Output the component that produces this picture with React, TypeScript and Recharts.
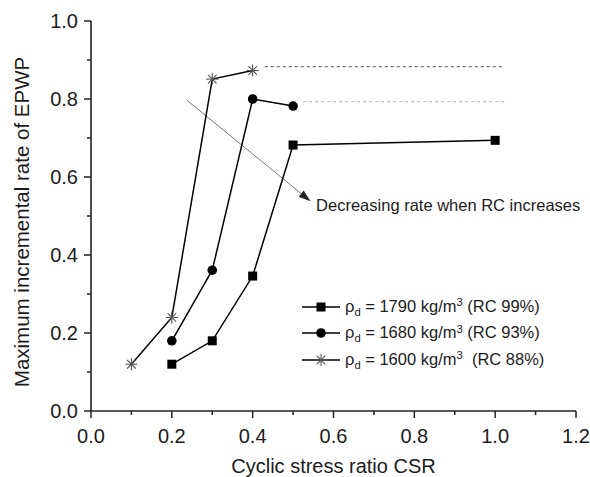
import React from 'react';
import { LineChart, Line, XAxis, YAxis, ReferenceLine, ReferenceDot } from 'recharts';

const xTicks = [0, 0.1, 0.2, 0.3, 0.4, 0.5, 0.6, 0.7, 0.8, 0.9, 1.0, 1.1, 1.2];
const yTicks = [0, 0.1, 0.2, 0.3, 0.4, 0.5, 0.6, 0.7, 0.8, 0.9, 1.0];

const csr1790 = [0.2, 0.3, 0.4, 0.5, 1.0];
const rate1790 = [0.12, 0.18, 0.346, 0.682, 0.694];
const csr1680 = [0.2, 0.3, 0.4, 0.5];
const rate1680 = [0.18, 0.361, 0.8, 0.782];
const csr1600 = [0.1, 0.2, 0.3, 0.4];
const rate1600 = [0.12, 0.24, 0.851, 0.873];

const dotted1600 = [{ x: 0.43, y: 0.883 }, { x: 1.017, y: 0.883 }];
const dotted1680 = [{ x: 0.525, y: 0.793 }, { x: 1.03, y: 0.793 }];
const arrowSeg = [{ x: 0.237, y: 0.797 }, { x: 0.543, y: 0.538 }];
const noteX = 0.557;
const noteY = 0.528;
const noteText = 'Decreasing rate when RC increases';

const xTitle = 'Cyclic stress ratio CSR';
const yTitle = 'Maximum incremental rate of EPWP';

const legendRows = [
  { marker: 'square', density: '1790', rc: ' (RC 99%)' },
  { marker: 'circle', density: '1680', rc: ' (RC 93%)' },
  { marker: 'star', density: '1600', rc: '  (RC 88%)' },
];

const zip = (xs: number[], ys: number[]) => xs.map((x, i) => ({ x, y: ys[i] }));
const d1790 = zip(csr1790, rate1790);
const d1680 = zip(csr1680, rate1680);
const d1600 = zip(csr1600, rate1600);

const FONT = '"Liberation Sans", Arial, sans-serif';
const TXT = '#1c1c1c';

const isMajor = (v: number) => Math.round(v * 10) % 2 === 0;

const XTick = (p: any) => {
  const { x, y, payload } = p;
  const major = isMajor(payload.value);
  return (
    <g>
      <line x1={x} y1={y} x2={x} y2={y + (major ? 7 : 4)} stroke="#222" strokeWidth={1.5} />
      {major && (
        <text x={x} y={y + 25} textAnchor="middle" dominantBaseline="central" fontSize={20} fontFamily={FONT} fill={TXT}>
          {payload.value.toFixed(1)}
        </text>
      )}
    </g>
  );
};

const YTick = (p: any) => {
  const { x, y, payload } = p;
  const major = isMajor(payload.value);
  return (
    <g>
      <line x1={x} y1={y} x2={x - (major ? 7 : 4)} y2={y} stroke="#222" strokeWidth={1.5} />
      {major && (
        <text x={x - 13} y={y} textAnchor="end" dominantBaseline="central" fontSize={20} fontFamily={FONT} fill={TXT}>
          {payload.value.toFixed(1)}
        </text>
      )}
    </g>
  );
};

const squareDot = (p: any) => (
  <rect key={p.index} x={p.cx - 4.5} y={p.cy - 4.5} width={9} height={9} fill="#000" />
);
const circleDot = (p: any) => <circle key={p.index} cx={p.cx} cy={p.cy} r={4.8} fill="#000" />;
const starShape = (cx: number, cy: number, key?: any) => (
  <g key={key} stroke="#555" strokeWidth={1.1}>
    <line x1={cx - 6} y1={cy} x2={cx + 6} y2={cy} />
    <line x1={cx} y1={cy - 6} x2={cx} y2={cy + 6} />
    <line x1={cx - 4.3} y1={cy - 4.3} x2={cx + 4.3} y2={cy + 4.3} />
    <line x1={cx - 4.3} y1={cy + 4.3} x2={cx + 4.3} y2={cy - 4.3} />
  </g>
);
const starDot = (p: any) => starShape(p.cx, p.cy, p.index);

const ArrowShape = (p: any) => {
  const { x1, y1, x2, y2 } = p;
  const ang = Math.atan2(y2 - y1, x2 - x1);
  const L = 12;
  const W = 4;
  const bx = x2 - L * Math.cos(ang);
  const by = y2 - L * Math.sin(ang);
  const nx = -Math.sin(ang) * W;
  const ny = Math.cos(ang) * W;
  return (
    <g>
      <line x1={x1} y1={y1} x2={bx} y2={by} stroke="#777" strokeWidth={1} />
      <polygon points={`${x2},${y2} ${bx + nx},${by + ny} ${bx - nx},${by - ny}`} fill="#222" />
    </g>
  );
};

const LegendMarker = ({ kind }: { kind: string }) => (
  <svg width={38} height={14} style={{ display: 'block' }}>
    <line x1={0} y1={7} x2={38} y2={7} stroke="#000" strokeWidth={1.5} />
    {kind === 'square' && <rect x={14.5} y={2.5} width={9} height={9} fill="#000" />}
    {kind === 'circle' && <circle cx={19} cy={7} r={4.8} fill="#000" />}
    {kind === 'star' && starShape(19, 7)}
  </svg>
);

export default function App() {
  return (
    <div style={{ position: 'absolute', left: 0, top: 0, width: 590, height: 477, background: '#fff' }}>
      <LineChart width={590} height={477} margin={{ top: 21, right: 14, left: 0, bottom: 0 }}>
        <XAxis
          dataKey="x"
          type="number"
          domain={[0, 1.2]}
          ticks={xTicks}
          interval={0}
          height={66}
          tickSize={0}
          tickMargin={0}
          tickLine={false}
          tick={XTick}
          axisLine={{ stroke: '#222', strokeWidth: 1.6 }}
          allowDataOverflow
          label={{
            content: (lp: any) => {
              const vb = lp.viewBox;
              return (
                <text x={vb.x + vb.width / 2} y={vb.y + 55} textAnchor="middle" dominantBaseline="central" fontSize={20} fontFamily={FONT} fill={TXT}>
                  {xTitle}
                </text>
              );
            },
          }}
        />
        <YAxis
          type="number"
          domain={[0, 1.0]}
          ticks={yTicks}
          interval={0}
          width={91}
          tickSize={0}
          tickMargin={0}
          tickLine={false}
          tick={YTick}
          axisLine={{ stroke: '#222', strokeWidth: 1.6 }}
          allowDataOverflow
          label={{
            content: (lp: any) => {
              const vb = lp.viewBox;
              const cx = vb.x + 21;
              const cy = vb.y + vb.height / 2 + 6;
              return (
                <text x={cx} y={cy} transform={`rotate(-90 ${cx} ${cy})`} textAnchor="middle" dominantBaseline="central" fontSize={20.5} fontFamily={FONT} fill={TXT}>
                  {yTitle}
                </text>
              );
            },
          }}
        />
        <ReferenceLine segment={dotted1600} stroke="#777" strokeWidth={1.1} strokeDasharray="3 3" />
        <ReferenceLine segment={dotted1680} stroke="#aaa" strokeWidth={1.1} strokeDasharray="3 3" />
        <ReferenceLine segment={arrowSeg} shape={ArrowShape} />
        <ReferenceDot
          x={noteX}
          y={noteY}
          r={0}
          shape={(p: any) => (
            <text x={p.cx} y={p.cy} dominantBaseline="central" fontSize={16.5} fontFamily={FONT} fill={TXT}>
              {noteText}
            </text>
          )}
        />
        <Line data={d1790} dataKey="y" stroke="#000" strokeWidth={1.5} dot={squareDot} activeDot={false} isAnimationActive={false} />
        <Line data={d1680} dataKey="y" stroke="#000" strokeWidth={1.5} dot={circleDot} activeDot={false} isAnimationActive={false} />
        <Line data={d1600} dataKey="y" stroke="#000" strokeWidth={1.5} dot={starDot} activeDot={false} isAnimationActive={false} />
      </LineChart>
      <div style={{ position: 'absolute', left: 302, top: 293.5, fontFamily: FONT, fontSize: 16.5, color: TXT }}>
        {legendRows.map((r) => (
          <div key={r.density} style={{ display: 'flex', alignItems: 'center', height: 26.5, whiteSpace: 'pre' }}>
            <LegendMarker kind={r.marker} />
            <span style={{ marginLeft: 5, lineHeight: '20px' }}>
              ρ<span style={{ fontSize: '0.68em', position: 'relative', top: '0.35em' }}>d</span>
              {` = ${r.density} kg/m`}
              <span style={{ fontSize: '0.68em', position: 'relative', top: '-0.5em' }}>3</span>
              {r.rc}
            </span>
          </div>
        ))}
      </div>
    </div>
  );
}
